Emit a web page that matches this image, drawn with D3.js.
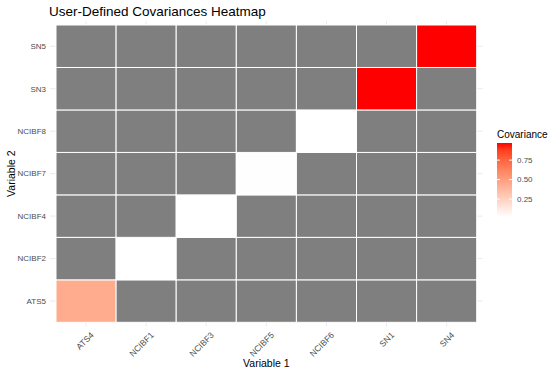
<!DOCTYPE html>
<html>
<head>
<meta charset="utf-8">
<script src="https://cdn.jsdelivr.net/npm/d3@7"></script>
<style>
  body { margin: 0; background: #fff; }
  svg { font-family: Arial, "Liberation Sans", sans-serif; }
</style>
</head>
<body>
<div id="chart"></div>
<script>
const X_VARS = ['ATS4', 'NCIBF1', 'NCIBF3', 'NCIBF5', 'NCIBF6', 'SN1', 'SN4'];
const Y_VARS = ['ATS5', 'NCIBF2', 'NCIBF4', 'NCIBF7', 'NCIBF8', 'SN3', 'SN5'];

// only the defined pairs have a value, every other cell is NA (grey)
const PAIR_X = ['ATS4', 'NCIBF1', 'NCIBF3', 'NCIBF5', 'NCIBF6', 'SN1', 'SN4'];
const PAIR_Y = ['ATS5', 'NCIBF2', 'NCIBF4', 'NCIBF7', 'NCIBF8', 'SN3', 'SN5'];
const PAIR_VALUE = [0.44, 0.02, 0.02, 0.025, 0.02, 0.97, 0.97];

const LEGEND_TICKS = [0.25, 0.5, 0.75];

const width = 550, height = 374;
const svg = d3.select('#chart').append('svg').attr('width', width).attr('height', height);

// panel (tile area) bounds
const pLeft = 56, pRight = 476.7, pTop = 25, pBottom = 322.3;
const x = d3.scaleBand().domain(X_VARS).range([pLeft, pRight]);
const y = d3.scaleBand().domain(Y_VARS).range([pBottom, pTop]);

const vmin = d3.min(PAIR_VALUE), vmax = d3.max(PAIR_VALUE);
const color = d3.scaleLinear().domain([vmin, vmax]).range(['white', 'red']).interpolate(d3.interpolateLab);

const lookup = new Map(PAIR_X.map((px, i) => [px + '|' + PAIR_Y[i], PAIR_VALUE[i]]));
const cells = d3.cross(X_VARS, Y_VARS).map(([cx, cy]) => ({
  x: cx, y: cy, v: lookup.has(cx + '|' + cy) ? lookup.get(cx + '|' + cy) : null
}));

// faint grid lines (theme_minimal) peeking out beyond the tiles
const ux = x.bandwidth() * 0.1, uy = y.bandwidth() * 0.1;
const grid = svg.append('g').attr('stroke', '#ebebeb').attr('stroke-width', 1);
X_VARS.forEach(d => {
  const cx = x(d) + x.bandwidth() / 2;
  grid.append('line').attr('x1', cx).attr('x2', cx).attr('y1', pTop - uy).attr('y2', pBottom + uy);
});
Y_VARS.forEach(d => {
  const cy = y(d) + y.bandwidth() / 2;
  grid.append('line').attr('x1', pLeft - ux).attr('x2', pRight + ux).attr('y1', cy).attr('y2', cy);
});

svg.append('g').selectAll('rect').data(cells).enter().append('rect')
  .attr('x', d => x(d.x)).attr('y', d => y(d.y))
  .attr('width', x.bandwidth()).attr('height', y.bandwidth())
  .attr('fill', d => d.v == null ? '#7f7f7f' : color(d.v))
  .attr('stroke', '#ffffff').attr('stroke-width', 1);

// axes
const axText = '#4d4d4d';
const yAx = svg.append('g');
Y_VARS.forEach(d => {
  yAx.append('text').attr('x', pLeft - ux - 4).attr('y', y(d) + y.bandwidth() / 2).attr('dy', '0.35em')
    .attr('text-anchor', 'end').attr('fill', axText).attr('font-size', 8).text(d);
});
const xAx = svg.append('g');
X_VARS.forEach(d => {
  const cx = x(d) + x.bandwidth() / 2 + 4;
  xAx.append('text').attr('transform', `translate(${cx},${pBottom + uy + 5}) rotate(-45)`)
    .attr('text-anchor', 'end').attr('dy', '0.7em').attr('fill', axText).attr('font-size', 8.5).text(d);
});

svg.append('text').attr('x', (pLeft + pRight) / 2).attr('y', 367).attr('text-anchor', 'middle')
  .attr('fill', '#000').attr('font-size', 10.5).text('Variable 1');
svg.append('text').attr('transform', `translate(15,${(pTop + pBottom) / 2}) rotate(-90)`)
  .attr('text-anchor', 'middle').attr('fill', '#000').attr('font-size', 10.5).text('Variable 2');

svg.append('text').attr('x', 49).attr('y', 15.5).attr('fill', '#000').attr('font-size', 13.5)
  .text('User-Defined Covariances Heatmap');

// legend colourbar
const lx = 497, lw = 15, lTop = 143, lBottom = 217;
const ly = d3.scaleLinear().domain([vmin, vmax]).range([lBottom, lTop]);
const defs = svg.append('defs');
const grad = defs.append('linearGradient').attr('id', 'covgrad').attr('x1', 0).attr('y1', 1).attr('x2', 0).attr('y2', 0);
d3.range(0, 1.0001, 0.1).forEach(t => {
  grad.append('stop').attr('offset', t).attr('stop-color', color(vmin + t * (vmax - vmin)));
});
svg.append('text').attr('x', lx).attr('y', 138).attr('fill', '#000').attr('font-size', 10).text('Covariance');
svg.append('rect').attr('x', lx).attr('y', lTop).attr('width', lw).attr('height', lBottom - lTop).attr('fill', 'url(#covgrad)');
const lt = svg.append('g');
LEGEND_TICKS.forEach(t => {
  lt.append('line').attr('x1', lx).attr('x2', lx + 3).attr('y1', ly(t)).attr('y2', ly(t)).attr('stroke', '#fff');
  lt.append('line').attr('x1', lx + lw - 3).attr('x2', lx + lw).attr('y1', ly(t)).attr('y2', ly(t)).attr('stroke', '#fff');
  lt.append('text').attr('x', lx + lw + 5).attr('y', ly(t)).attr('dy', '0.35em')
    .attr('fill', axText).attr('font-size', 8).text(t.toFixed(2));
});
</script>
</body>
</html>
